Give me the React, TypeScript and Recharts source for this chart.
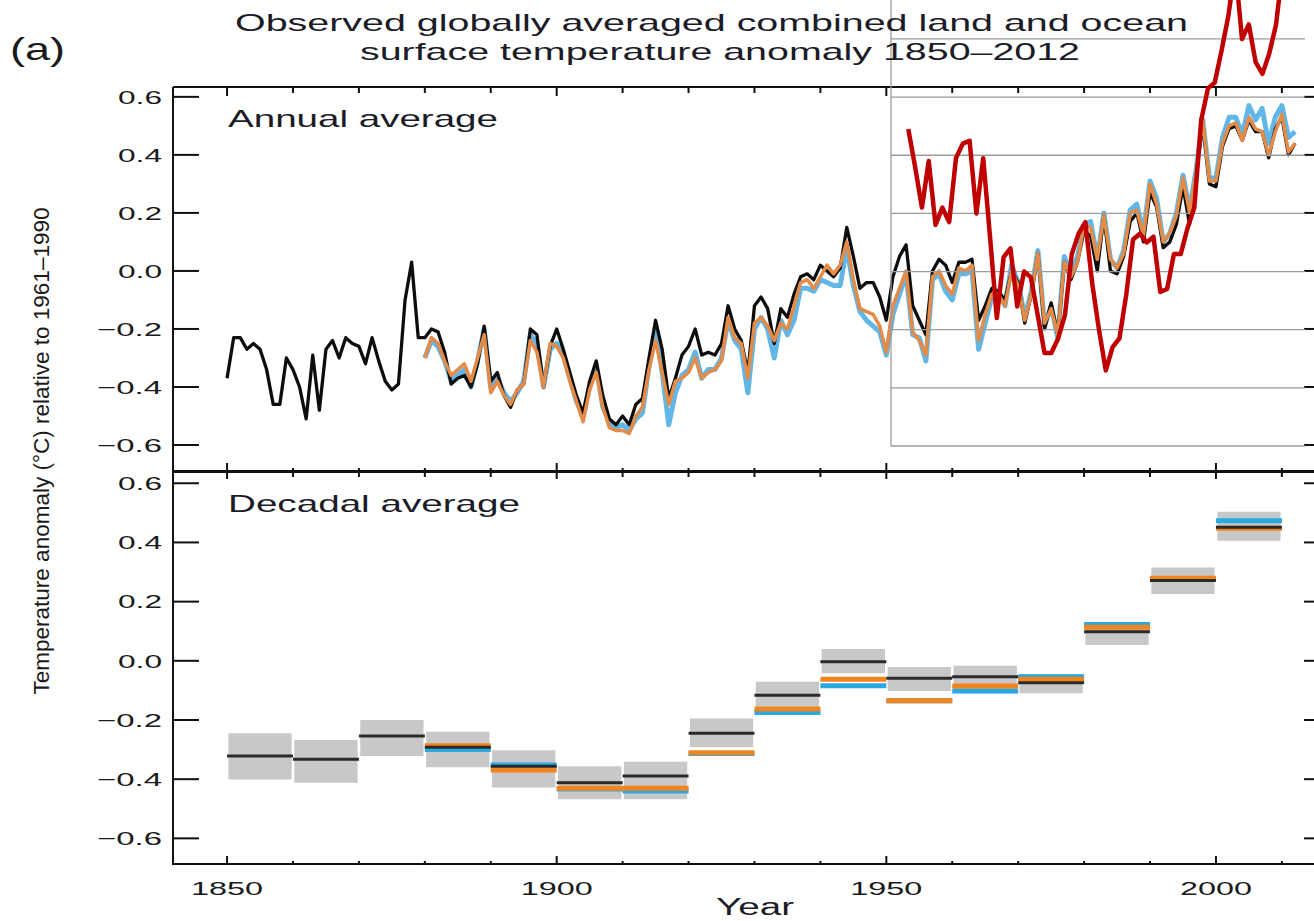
import React from 'react';
import { ComposedChart, Line, Area, XAxis, YAxis, ReferenceLine } from 'recharts';

const FONT = '"Liberation Sans", Arial, Helvetica, sans-serif';

// ---------- Annual series ----------
const hadcrutStartYear = 1850;
const hadcrutAnnual = [
  -0.37, -0.23, -0.23, -0.27, -0.25, -0.27, -0.34, -0.46, -0.46, -0.30,
  -0.34, -0.40, -0.51, -0.29, -0.48, -0.27, -0.24, -0.30, -0.23, -0.25,
  -0.26, -0.32, -0.23, -0.31, -0.38, -0.41, -0.39, -0.10, 0.03, -0.23,
  -0.23, -0.20, -0.21, -0.28, -0.39, -0.37, -0.36, -0.40, -0.32, -0.19,
  -0.38, -0.35, -0.43, -0.47, -0.41, -0.39, -0.20, -0.22, -0.40, -0.26,
  -0.20, -0.27, -0.35, -0.43, -0.49, -0.38, -0.31, -0.43, -0.51, -0.53,
  -0.50, -0.53, -0.46, -0.44, -0.30, -0.17, -0.27, -0.44, -0.37, -0.29,
  -0.26, -0.20, -0.29, -0.28, -0.29, -0.25, -0.12, -0.20, -0.24, -0.35,
  -0.12, -0.09, -0.13, -0.25, -0.13, -0.16, -0.08, -0.02, -0.01, -0.03,
  0.02, 0.00, -0.02, 0.01, 0.15, 0.05, -0.06, -0.04, -0.04, -0.09,
  -0.17, -0.02, 0.05, 0.09, -0.12, -0.17, -0.22, 0.00, 0.04, 0.02,
  -0.04, 0.03, 0.03, 0.04, -0.17, -0.12, -0.06, -0.07, -0.10, 0.00,
  -0.04, -0.18, -0.08, 0.06, -0.20, -0.11, -0.22, 0.03, -0.03, 0.03,
  0.14, 0.12, 0.00, 0.19, 0.00, -0.01, 0.05, 0.17, 0.20, 0.10,
  0.27, 0.22, 0.08, 0.10, 0.16, 0.29, 0.16, 0.33, 0.51, 0.30,
  0.29, 0.43, 0.49, 0.50, 0.45, 0.52, 0.48, 0.48, 0.39, 0.49,
  0.53, 0.40, 0.44,
];

const noaaStartYear = 1880;
const noaaAnnual = [
  -0.30, -0.23, -0.25, -0.31, -0.36, -0.34, -0.32, -0.38, -0.30, -0.22,
  -0.42, -0.38, -0.43, -0.46, -0.41, -0.39, -0.24, -0.28, -0.40, -0.25,
  -0.26, -0.30, -0.38, -0.45, -0.52, -0.41, -0.35, -0.47, -0.54, -0.55,
  -0.55, -0.56, -0.50, -0.47, -0.34, -0.24, -0.35, -0.46, -0.38, -0.37,
  -0.35, -0.30, -0.37, -0.35, -0.34, -0.31, -0.16, -0.23, -0.25, -0.37,
  -0.18, -0.16, -0.19, -0.24, -0.18, -0.20, -0.12, -0.04, -0.03, -0.06,
  -0.02, 0.02, -0.01, 0.02, 0.10, -0.03, -0.13, -0.14, -0.15, -0.19,
  -0.28, -0.12, -0.06, 0.00, -0.21, -0.24, -0.29, -0.02, 0.00, -0.05,
  -0.08, 0.01, 0.00, 0.02, -0.24, -0.15, -0.08, -0.08, -0.12, 0.00,
  -0.05, -0.17, -0.08, 0.06, -0.18, -0.13, -0.22, 0.03, -0.02, 0.03,
  0.16, 0.15, 0.04, 0.19, 0.04, 0.01, 0.06, 0.20, 0.21, 0.12,
  0.30, 0.23, 0.10, 0.13, 0.19, 0.32, 0.20, 0.34, 0.52, 0.31,
  0.31, 0.44, 0.50, 0.51, 0.45, 0.53, 0.49, 0.48, 0.40, 0.48,
  0.54, 0.41, 0.44,
];

const gissStartYear = 1880;
const gissAnnual = [
  -0.30, -0.24, -0.26, -0.31, -0.38, -0.36, -0.34, -0.40, -0.31, -0.20,
  -0.40, -0.37, -0.42, -0.45, -0.42, -0.38, -0.22, -0.25, -0.40, -0.27,
  -0.25, -0.29, -0.37, -0.45, -0.50, -0.40, -0.33, -0.47, -0.52, -0.54,
  -0.53, -0.55, -0.51, -0.49, -0.33, -0.20, -0.35, -0.53, -0.42, -0.36,
  -0.34, -0.28, -0.37, -0.34, -0.34, -0.30, -0.17, -0.24, -0.27, -0.42,
  -0.20, -0.16, -0.20, -0.30, -0.17, -0.22, -0.17, -0.06, -0.06, -0.07,
  -0.03, -0.04, -0.05, -0.05, 0.08, -0.05, -0.14, -0.17, -0.19, -0.21,
  -0.29, -0.15, -0.08, -0.01, -0.22, -0.23, -0.31, -0.03, -0.01, -0.07,
  -0.10, -0.01, -0.01, 0.00, -0.27, -0.18, -0.09, -0.07, -0.12, 0.02,
  -0.04, -0.16, -0.07, 0.07, -0.19, -0.12, -0.23, 0.05, -0.01, 0.05,
  0.16, 0.17, 0.04, 0.20, 0.04, 0.01, 0.07, 0.21, 0.23, 0.13,
  0.31, 0.25, 0.10, 0.13, 0.20, 0.33, 0.21, 0.35, 0.52, 0.32,
  0.32, 0.46, 0.53, 0.53, 0.47, 0.57, 0.52, 0.56, 0.44, 0.53,
  0.57, 0.46, 0.48,
];

// ---------- Red overlay series (own grid box) ----------
const overlayStartYear = 1953;
const overlayRed = [
  0.49, 0.36, 0.22, 0.38, 0.16, 0.22, 0.17, 0.39, 0.44, 0.45,
  0.20, 0.39, 0.12, -0.16, 0.05, 0.08, -0.12, 0.00, -0.02, -0.15,
  -0.28, -0.28, -0.23, -0.15, 0.06, 0.13, 0.17, -0.04, -0.20, -0.34,
  -0.26, -0.23, -0.08, 0.11, 0.13, 0.10, 0.12, -0.07, -0.06, 0.06,
  0.06, 0.15, 0.22, 0.52, 0.63, 0.65, 0.76, 0.88, 1.05, 0.80,
  0.85, 0.72, 0.68, 0.75, 0.85, 1.05,
];
const overlayGridValues = [0.8, 0.6, 0.4, 0.2, 0, -0.2, -0.4, -0.6];

// ---------- Decadal series ----------
const decadeStarts = [1850, 1860, 1870, 1880, 1890, 1900, 1910, 1920, 1930, 1940, 1950, 1960, 1970, 1980, 1990, 2000];
const hadcrutDecadal = [-0.322, -0.333, -0.254, -0.292, -0.356, -0.412, -0.389, -0.245, -0.116, -0.003, -0.059, -0.054, -0.074, 0.098, 0.271, 0.451];
const hadcrutDecadalLow = [-0.401, -0.412, -0.322, -0.360, -0.428, -0.468, -0.468, -0.292, -0.155, -0.042, -0.102, -0.110, -0.110, 0.053, 0.226, 0.406];
const hadcrutDecadalHigh = [-0.245, -0.268, -0.200, -0.240, -0.302, -0.356, -0.341, -0.195, -0.071, 0.040, -0.021, -0.017, -0.045, 0.127, 0.315, 0.504];
const noaaDecadal = [null, null, null, -0.287, -0.369, -0.431, -0.431, -0.311, -0.163, -0.062, -0.135, -0.085, -0.062, 0.113, 0.279, 0.448];
const gissDecadal = [null, null, null, -0.300, -0.352, -0.433, -0.440, -0.313, -0.175, -0.084, -0.135, -0.102, -0.054, 0.123, 0.275, 0.473];

// ---------- Ticks ----------
const yTickValues = [-0.6, -0.4, -0.2, 0, 0.2, 0.4, 0.6];
const yTickLabels = ['\u22120.6', '\u22120.4', '\u22120.2', '0.0', '0.2', '0.4', '0.6'];
const xMajorTicks = [1850, 1900, 1950, 2000];
const xMajorLabels = ['1850', '1900', '1950', '2000'];
const xMinorTicks = [1860, 1870, 1880, 1890, 1910, 1920, 1930, 1940, 1960, 1970, 1980, 1990, 2010];

// ---------- Scales / layout ----------
const X_DOMAIN: [number, number] = [1841.8, 2017.3];
const TOP_Y_DOMAIN: [number, number] = [-0.693, 0.634];
const BOT_Y_DOMAIN: [number, number] = [-0.69, 0.638];
const OVERLAY_X_DOMAIN: [number, number] = [1950.46, 2011.25];
const OVERLAY_Y_DOMAIN: [number, number] = [-0.6, 0.934];

const AXIS = { stroke: '#111', strokeWidth: 2 };

// ---------- Rows ----------
const toRows = (start: number, vals: number[]) => vals.map((v, i) => ({ year: start + i, v }));
const hadRows = toRows(hadcrutStartYear, hadcrutAnnual);
const noaaRows = toRows(noaaStartYear, noaaAnnual);
const gissRows = toRows(gissStartYear, gissAnnual);
const redRows = toRows(overlayStartYear, overlayRed);

const stepRows = (vals: (number | null)[]) =>
  decadeStarts.flatMap((d, i) => [
    { year: d, v: vals[i] },
    { year: d + 10, v: vals[i] },
    { year: d + 10, v: null },
  ]);
const hadStep = stepRows(hadcrutDecadal);
const noaaStep = stepRows(noaaDecadal);
const gissStep = stepRows(gissDecadal);
const boxRows = decadeStarts.flatMap((d, i) => [
  { year: d + 0.2, range: [hadcrutDecadalLow[i], hadcrutDecadalHigh[i]] },
  { year: d + 9.8, range: [hadcrutDecadalLow[i], hadcrutDecadalHigh[i]] },
  { year: d + 9.8, range: null },
]);

// ---------- Tick renderers ----------
const renderNoLabel = () => <g />;
const renderYTick = (props: any) => {
  const { x, y, payload } = props;
  const idx = yTickValues.indexOf(payload.value);
  const label = idx >= 0 ? yTickLabels[idx] : '';
  const w = label.startsWith('\u2212') ? 65 : 44;
  return (
    <text x={x} y={y} dy={6.8} textAnchor="end" fontSize={19} fill="#1a1a1a" fontFamily={FONT}
      textLength={w} lengthAdjust="spacingAndGlyphs">{label}</text>
  );
};
const renderXTick = (props: any) => {
  const { x, y, payload } = props;
  const idx = xMajorTicks.indexOf(payload.value);
  return (
    <text x={x} y={y + 30} textAnchor="middle" fontSize={19} fill="#1a1a1a" fontFamily={FONT}
      textLength={72} lengthAdjust="spacingAndGlyphs">{idx >= 0 ? xMajorLabels[idx] : ''}</text>
  );
};

const abs = (top: number): React.CSSProperties => ({ position: 'absolute', left: 0, top, pointerEvents: 'none' });

export default function App() {
  return (
    <div style={{ position: 'fixed', left: 0, top: 0, width: 1314, height: 921, overflow: 'hidden', background: '#fff', fontFamily: FONT }}>
      {/* Top panel: annual average */}
      <div style={abs(0)}>
        <ComposedChart width={1340} height={480} margin={{ top: 87, right: 10, bottom: 8, left: 0 }}>
          <XAxis xAxisId="topMaj" orientation="top" mirror height={1} type="number" dataKey="year" domain={X_DOMAIN} allowDataOverflow
            ticks={xMajorTicks} interval={0} tickSize={9} tick={renderNoLabel} axisLine={AXIS} tickLine={AXIS} />
          <XAxis xAxisId="topMin" orientation="top" mirror height={1} type="number" dataKey="year" domain={X_DOMAIN} allowDataOverflow
            ticks={xMinorTicks} interval={0} tickSize={5} tick={renderNoLabel} axisLine={false} tickLine={AXIS} />
          <XAxis xAxisId="data" orientation="bottom" mirror height={1} type="number" dataKey="year" domain={X_DOMAIN} allowDataOverflow
            ticks={xMajorTicks} interval={0} tickSize={8} tick={renderNoLabel} axisLine={AXIS} tickLine={AXIS} />
          <XAxis xAxisId="botMin" orientation="bottom" mirror height={1} type="number" dataKey="year" domain={X_DOMAIN} allowDataOverflow
            ticks={xMinorTicks} interval={0} tickSize={4} tick={renderNoLabel} axisLine={false} tickLine={AXIS} />
          <YAxis yAxisId="data" orientation="left" mirror width={1} type="number" domain={TOP_Y_DOMAIN} allowDataOverflow
            ticks={yTickValues} interval={0} tickSize={26} tick={renderNoLabel} axisLine={AXIS} tickLine={AXIS} />
          <YAxis yAxisId="right" orientation="right" mirror width={1} type="number" domain={TOP_Y_DOMAIN} allowDataOverflow
            ticks={yTickValues} interval={0} tickSize={26} tick={renderNoLabel} axisLine={AXIS} tickLine={AXIS} />
          <YAxis yAxisId="labels" orientation="left" width={173} type="number" domain={TOP_Y_DOMAIN} allowDataOverflow
            ticks={yTickValues} interval={0} tickSize={0} tickMargin={11} tickLine={false} axisLine={false} tick={renderYTick} />
          <Line xAxisId="data" yAxisId="data" data={gissRows} dataKey="v" stroke="#62b6e6" strokeWidth={5}
            strokeLinejoin="round" dot={false} activeDot={false} isAnimationActive={false} />
          <Line xAxisId="data" yAxisId="data" data={hadRows} dataKey="v" stroke="#0d0d0d" strokeWidth={3.3}
            strokeLinejoin="round" dot={false} activeDot={false} isAnimationActive={false} />
          <Line xAxisId="data" yAxisId="data" data={noaaRows} dataKey="v" stroke="#e58b48" strokeWidth={3.5}
            strokeLinejoin="round" dot={false} activeDot={false} isAnimationActive={false} />
        </ComposedChart>
      </div>

      {/* Overlay: grey grid box and red series */}
      <div style={abs(0)}>
        <ComposedChart width={1314} height={450} margin={{ top: 0, right: 9, bottom: 4, left: 891 }}>
          <XAxis xAxisId="o" hide type="number" dataKey="year" domain={OVERLAY_X_DOMAIN} allowDataOverflow />
          <YAxis yAxisId="o" hide type="number" domain={OVERLAY_Y_DOMAIN} allowDataOverflow />
          {overlayGridValues.map((v) => (
            <ReferenceLine key={v} xAxisId="o" yAxisId="o" y={v} stroke="#9c9c9c" strokeWidth={1.3} ifOverflow="visible" />
          ))}
          <ReferenceLine xAxisId="o" yAxisId="o" x={OVERLAY_X_DOMAIN[0]} stroke="#9c9c9c" strokeWidth={1.3} ifOverflow="visible" />
          <Line xAxisId="o" yAxisId="o" data={redRows} dataKey="v" stroke="#c00000" strokeWidth={4.5}
            strokeLinejoin="round" dot={false} activeDot={false} isAnimationActive={false} />
        </ComposedChart>
      </div>

      {/* Bottom panel: decadal average */}
      <div style={abs(0)}>
        <ComposedChart width={1340} height={921} margin={{ top: 472, right: 10, bottom: 0, left: 0 }}>
          <XAxis xAxisId="data" orientation="bottom" mirror height={1} type="number" dataKey="year" domain={X_DOMAIN} allowDataOverflow
            ticks={xMajorTicks} interval={0} tickSize={8} tick={renderNoLabel} axisLine={AXIS} tickLine={AXIS} />
          <XAxis xAxisId="botMin" orientation="bottom" mirror height={1} type="number" dataKey="year" domain={X_DOMAIN} allowDataOverflow
            ticks={xMinorTicks} interval={0} tickSize={4} tick={renderNoLabel} axisLine={false} tickLine={AXIS} />
          <XAxis xAxisId="topMaj" orientation="top" mirror height={1} type="number" dataKey="year" domain={X_DOMAIN} allowDataOverflow
            ticks={xMajorTicks} interval={0} tickSize={7} tick={renderNoLabel} axisLine={AXIS} tickLine={AXIS} />
          <XAxis xAxisId="topMin" orientation="top" mirror height={1} type="number" dataKey="year" domain={X_DOMAIN} allowDataOverflow
            ticks={xMinorTicks} interval={0} tickSize={4} tick={renderNoLabel} axisLine={false} tickLine={AXIS} />
          <XAxis xAxisId="labels" orientation="bottom" height={56} type="number" dataKey="year" domain={X_DOMAIN} allowDataOverflow
            ticks={xMajorTicks} interval={0} tickSize={0} tickMargin={0} tickLine={false} axisLine={false} tick={renderXTick} />
          <YAxis yAxisId="data" orientation="left" mirror width={1} type="number" domain={BOT_Y_DOMAIN} allowDataOverflow
            ticks={yTickValues} interval={0} tickSize={26} tick={renderNoLabel} axisLine={AXIS} tickLine={AXIS} />
          <YAxis yAxisId="right" orientation="right" mirror width={1} type="number" domain={BOT_Y_DOMAIN} allowDataOverflow
            ticks={yTickValues} interval={0} tickSize={26} tick={renderNoLabel} axisLine={AXIS} tickLine={AXIS} />
          <YAxis yAxisId="labels" orientation="left" width={173} type="number" domain={BOT_Y_DOMAIN} allowDataOverflow
            ticks={yTickValues} interval={0} tickSize={0} tickMargin={11} tickLine={false} axisLine={false} tick={renderYTick} />
          <Area xAxisId="data" yAxisId="data" data={boxRows} dataKey="range" stroke="none" fill="#c8c8c8" fillOpacity={1}
            dot={false} activeDot={false} isAnimationActive={false} />
          <Line xAxisId="data" yAxisId="data" data={gissStep} dataKey="v" stroke="#2aa8e0" strokeWidth={5}
            dot={false} activeDot={false} isAnimationActive={false} />
          <Line xAxisId="data" yAxisId="data" data={noaaStep} dataKey="v" stroke="#f0841f" strokeWidth={5}
            dot={false} activeDot={false} isAnimationActive={false} />
          <Line xAxisId="data" yAxisId="data" data={hadStep} dataKey="v" stroke="#2a2a2a" strokeWidth={3}
            dot={false} activeDot={false} isAnimationActive={false} />
        </ComposedChart>
      </div>

      {/* Titles and labels */}
      <svg width={1314} height={921} style={abs(0)} fontFamily={FONT}>
        <text x={10} y={60} fontSize={32} fill="#1a1a1a" textLength={55} lengthAdjust="spacingAndGlyphs">(a)</text>
        <text x={235} y={31} fontSize={24} fill="#1c1c28" textLength={953} lengthAdjust="spacingAndGlyphs">
          Observed globally averaged combined land and ocean
        </text>
        <text x={360} y={60} fontSize={24} fill="#1c1c28" textLength={720} lengthAdjust="spacingAndGlyphs">
          surface temperature anomaly 1850–2012
        </text>
        <text x={228} y={127} fontSize={24} fill="#1c1c28" textLength={270} lengthAdjust="spacingAndGlyphs">Annual average</text>
        <text x={228} y={512} fontSize={24} fill="#1c1c28" textLength={292} lengthAdjust="spacingAndGlyphs">Decadal average</text>
        <text x={716} y={915} fontSize={23} fill="#1c1c28" textLength={78} lengthAdjust="spacingAndGlyphs">Year</text>
        <text transform="translate(49,451) rotate(-90)" textAnchor="middle" fontSize={22} fill="#1a1a1a"
          textLength={487} lengthAdjust="spacingAndGlyphs">
          Temperature anomaly (°C) relative to 1961–1990
        </text>
      </svg>
    </div>
  );
}
